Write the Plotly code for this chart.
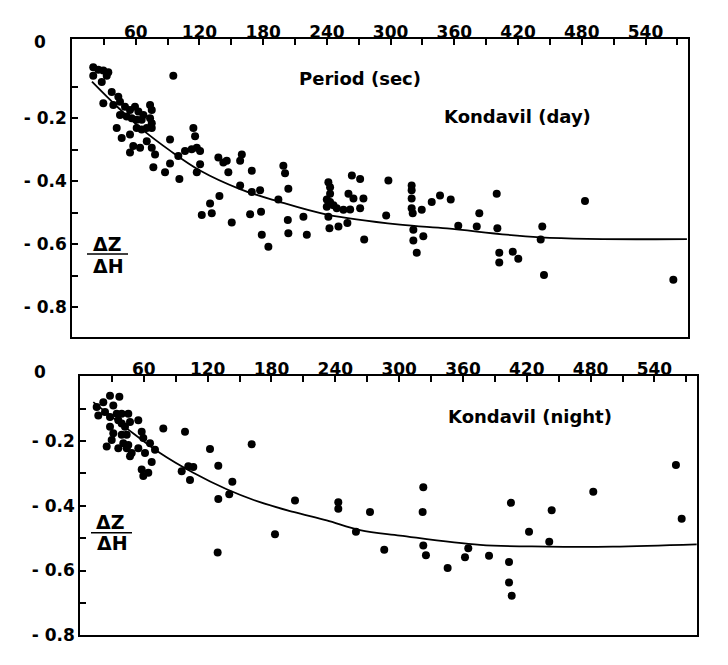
import plotly.graph_objects as go

# ---------------- data ----------------
day_period = [20, 24.8, 29.5, 34.2, 20, 28, 32.7, 37.4, 43.6, 29.5, 38.9, 45.2, 49.9, 54.6, 59.3,
              62.5, 67.2, 73.5, 75.1, 45.2, 51.5, 56.2, 60.9, 65.6, 73.5, 75.1, 42.1, 46.8, 54.6,
              60.9, 65.6, 70.4, 75.1, 54.6, 57.7, 64.1, 70.4, 75.1, 78.2, 76.6, 87.6, 92.3, 92.3,
              100.1, 101.1, 106.4, 114.3, 115.9, 112.7, 117.5, 120.6, 120.6, 117.5, 137.8, 142.5,
              145.7, 147.2, 159.9, 158.3, 169.3, 158.3, 169.3, 177.1, 199, 200.6, 203.7, 194.3,
              138.8, 130, 122.2, 131.6, 150.4, 167.7, 178, 178.7, 184.9, 203.2, 203.7, 217.9, 221.1,
              241.4, 243, 243, 239.9, 243, 246.2, 239.9, 249.3, 255.6, 260.3, 261.9, 263.5, 271.3,
              265, 274.4, 271.3, 241.4, 242.4, 250.9, 259.3, 275.1, 297.9, 295.8, 95.4,
              319.8, 319.8, 319.8, 319.8, 320.8, 329.3, 338.7, 346.5, 356.6, 321.4, 321.4, 330.8,
              324.6, 363.7, 381.1, 383.5, 399.9, 400.5, 402.3, 402.3, 415, 420.2, 442.8, 441.3,
              444.4, 483, 566.2]
day_ratio = [-0.038, -0.046, -0.049, -0.054, -0.065, -0.085, -0.065, -0.117, -0.132, -0.153, -0.158,
             -0.148, -0.164, -0.174, -0.164, -0.179, -0.19, -0.158, -0.174, -0.19, -0.195, -0.2,
             -0.205, -0.205, -0.2, -0.216, -0.231, -0.263, -0.252, -0.231, -0.236, -0.231, -0.231,
             -0.309, -0.288, -0.294, -0.273, -0.294, -0.315, -0.356, -0.372, -0.344, -0.268, -0.32,
             -0.393, -0.304, -0.231, -0.257, -0.299, -0.294, -0.304, -0.346, -0.372, -0.325, -0.341,
             -0.335, -0.372, -0.315, -0.335, -0.367, -0.414, -0.434, -0.429, -0.351, -0.375, -0.424,
             -0.458, -0.447, -0.471, -0.507, -0.502, -0.531, -0.505, -0.497, -0.57, -0.608, -0.523,
             -0.565, -0.513, -0.57, -0.403, -0.419, -0.44, -0.458, -0.466, -0.476, -0.481, -0.486,
             -0.491, -0.44, -0.49, -0.382, -0.393, -0.455, -0.455, -0.486, -0.513, -0.549, -0.544,
             -0.533, -0.585, -0.398, -0.509, -0.065,
             -0.414, -0.429, -0.455, -0.486, -0.502, -0.491, -0.466, -0.445, -0.458, -0.554, -0.588,
             -0.575, -0.627, -0.541, -0.544, -0.502, -0.44, -0.549, -0.627, -0.658, -0.624, -0.646,
             -0.544, -0.585, -0.698, -0.463, -0.713]

day_curve_period = [18.8, 42.4, 66.9, 92.3, 120.5, 158.2, 193, 240.1, 308.8, 353.1, 440.7, 579]
day_curve_ratio = [-0.084, -0.163, -0.238, -0.303, -0.366, -0.425, -0.463, -0.506, -0.538, -0.55,
                   -0.578, -0.584]

night_period = [28.2, 37, 21.9, 31.3, 15.7, 17.2, 23.5, 28.2, 34.5, 39.2, 45.4, 47, 42.3, 36, 28.2,
                31.3, 39.2, 43.9, 29.8, 25.1, 36, 43.9, 47, 48.6, 54.8, 58, 59.5, 65.8, 54.8, 61.1,
                70.5, 67.4, 58, 59.5, 64.2, 78.3, 98.7, 95.6, 101.8, 106.5, 103.4, 122.2, 130, 143.2,
                140.3, 130, 161.4, 202.1, 242.8, 242.8, 272.6, 259.4, 183.3, 129.4, 286, 39.2, 40.7,
                45.4,
                322.7, 322.1, 322.7, 325.2, 345.6, 365, 361.9, 384.5, 403.3, 403.3, 405.8, 405.1,
                422.1, 441.1, 443.4, 482.5, 560.2, 565.6]
night_ratio = [-0.06, -0.063, -0.08, -0.09, -0.095, -0.121, -0.11, -0.126, -0.116, -0.116, -0.116,
               -0.141, -0.156, -0.136, -0.156, -0.176, -0.181, -0.181, -0.197, -0.217, -0.222, -0.222,
               -0.247, -0.237, -0.136, -0.171, -0.191, -0.207, -0.222, -0.237, -0.227, -0.265, -0.288,
               -0.308, -0.298, -0.161, -0.171, -0.293, -0.278, -0.28, -0.32, -0.225, -0.276, -0.326,
               -0.364, -0.379, -0.21, -0.384, -0.389, -0.409, -0.419, -0.48, -0.488, -0.544, -0.536,
               -0.146, -0.207, -0.212,
               -0.343, -0.419, -0.523, -0.553, -0.592, -0.531, -0.559, -0.554, -0.574, -0.637, -0.678,
               -0.391, -0.48, -0.511, -0.414, -0.357, -0.274, -0.44]

night_curve_period = [12.5, 43.9, 75.2, 106.5, 137.9, 169.2, 200.5, 231.9, 263.2, 300.8, 376, 438.7,
                      501, 579.7]
night_curve_ratio = [-0.08, -0.161, -0.237, -0.298, -0.349, -0.389, -0.419, -0.445, -0.475, -0.492,
                     -0.521, -0.526, -0.526, -0.519]

x_tick_vals = [30, 60, 90, 120, 150, 180, 210, 240, 270, 300, 330, 360, 390, 420, 450, 480, 510, 540, 570]
x_tick_text = ["", "60", "", "120", "", "180", "", "240", "", "300", "", "360", "", "420", "", "480",
               "", "540", ""]
y_tick_vals = [-0.1, -0.2, -0.3, -0.4, -0.5, -0.6, -0.7, -0.8]
y_tick_text = ["", "- 0.2", "", "- 0.4", "", "- 0.6", "", "- 0.8"]

# ---------------- figure ----------------
W, H = 728, 665
FONT = "DejaVu Sans"

fig = go.Figure()

marker = dict(color="black", size=8, line=dict(width=0))
fig.add_trace(go.Scatter(x=day_period, y=day_ratio, mode="markers", marker=marker,
                         xaxis="x", yaxis="y", showlegend=False))
fig.add_trace(go.Scatter(x=day_curve_period, y=day_curve_ratio, mode="lines",
                         line=dict(color="black", width=1.8, shape="spline"),
                         xaxis="x", yaxis="y", showlegend=False))
fig.add_trace(go.Scatter(x=night_period, y=night_ratio, mode="markers", marker=marker,
                         xaxis="x2", yaxis="y2", showlegend=False))
fig.add_trace(go.Scatter(x=night_curve_period, y=night_curve_ratio, mode="lines",
                         line=dict(color="black", width=1.8, shape="spline"),
                         xaxis="x2", yaxis="y2", showlegend=False))

tickfont = dict(family=FONT, size=17, color="black", weight="bold")
xcommon = dict(range=[0, 580], side="top", showgrid=False, zeroline=False, showline=True,
               mirror=True, linecolor="black", linewidth=1.5, ticks="inside", ticklen=6,
               tickcolor="black", tickwidth=1.5, tickmode="array", tickvals=x_tick_vals,
               ticktext=x_tick_text, tickfont=tickfont, ticklabelstandoff=-7)
ycommon = dict(showgrid=False, zeroline=False, showline=True, mirror=True, linecolor="black",
               linewidth=1.5, ticks="inside", ticklen=6, tickcolor="black", tickwidth=1.5,
               tickmode="array", tickvals=y_tick_vals, ticktext=y_tick_text, tickfont=tickfont)

fig.update_layout(
    width=W, height=H,
    margin=dict(l=0, r=0, t=0, b=0),
    paper_bgcolor="white", plot_bgcolor="white",
    xaxis=dict(domain=[72 / W, 688 / W], anchor="y", **xcommon),
    yaxis=dict(domain=[1 - 342 / H, 1 - 40 / H], range=[-0.894, 0.05], anchor="x", **ycommon),
    xaxis2=dict(domain=[80 / W, 697 / W], anchor="y2", **xcommon),
    yaxis2=dict(domain=[1 - 645 / H, 1 - 382 / H], range=[-0.8, 0], anchor="x2", **ycommon),
)

def txt(x, y, s, size=19, bold=True):
    fig.add_annotation(x=x / W, y=1 - y / H, xref="paper", yref="paper", text=s, showarrow=False,
                       font=dict(family=FONT, size=size, color="black",
                                 weight="bold" if bold else "normal"),
                       xanchor="center", yanchor="middle")

txt(40, 43, "0", 17)
txt(40, 378, "0", 17)
txt(360, 80, "Period (sec)", 18)
txt(517, 118, "Kondavil (day)", 18)
txt(530, 423, "Kondavil (night)", 18)
txt(107, 248, "ΔZ", 19)
txt(108, 270, "ΔH", 19)
txt(110, 530, "ΔZ", 19)
txt(112, 551, "ΔH", 19)
fig.add_shape(type="line", xref="paper", yref="paper", x0=87 / W, x1=128 / W,
              y0=1 - 258 / H, y1=1 - 258 / H, line=dict(color="black", width=1.5))
fig.add_shape(type="line", xref="paper", yref="paper", x0=91 / W, x1=132 / W,
              y0=1 - 541 / H, y1=1 - 541 / H, line=dict(color="black", width=1.5))

fig.write_html("out.html")
